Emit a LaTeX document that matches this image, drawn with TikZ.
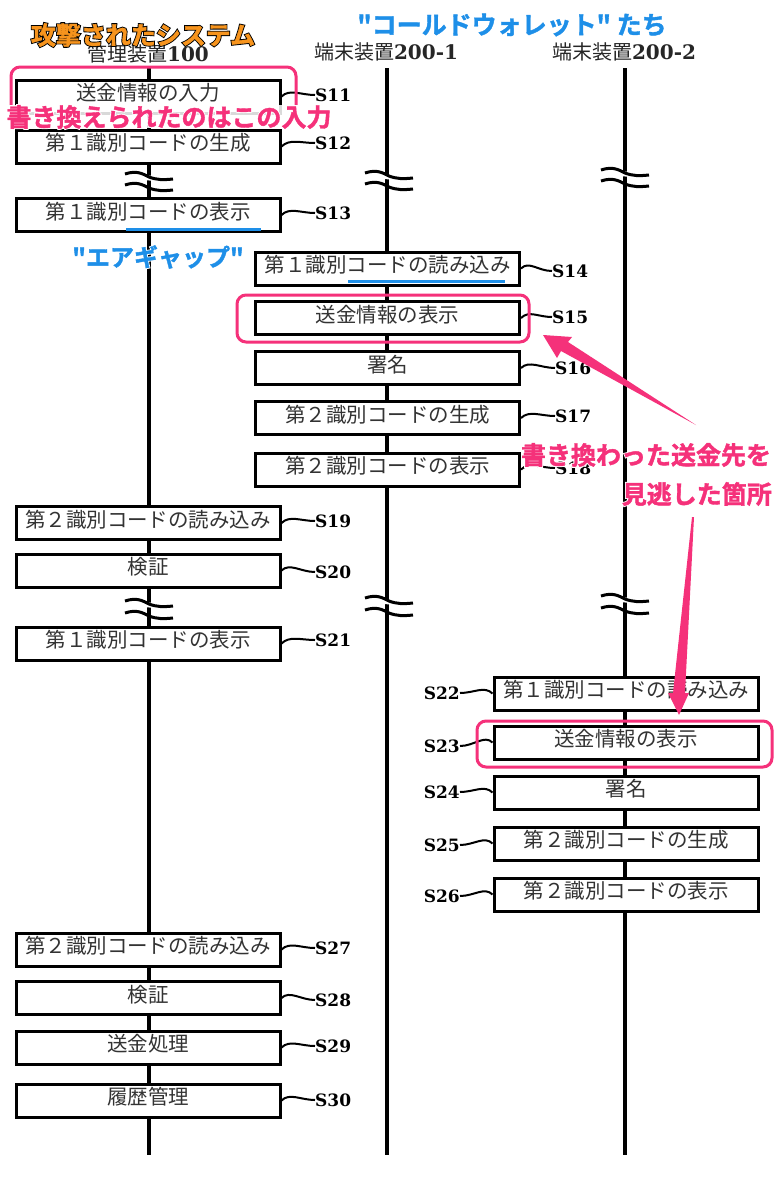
\documentclass[tikz,border=0pt]{standalone}
\usepackage{fontspec}
\setmainfont{Noto Sans CJK JP}
\newfontfamily\boldjp{Noto Sans CJK JP Bold}[FakeBold=1.5]
\newfontfamily\halojp{Noto Sans CJK JP Bold}[FakeBold=9]
\newfontfamily\stepfont{DejaVu Serif Bold}
\definecolor{pinkmark}{HTML}{F5317A}
\definecolor{bluemark}{HTML}{1E8FE8}
\definecolor{orangemark}{HTML}{F7941D}
\newcommand{\halotext}[4]{\fontsize{#1}{#1}\selectfont\leavevmode\rlap{\halojp\color{#2}#4}{\boldjp\color{#3}#4}}
\tikzset{
  box/.style={draw=black,line width=3pt,fill=white,minimum width=264pt,minimum height=33pt,inner sep=0pt,text height=14pt,text depth=5.5pt,font=\fontsize{20.5}{20.5}\selectfont,text=black!80},
  life/.style={line width=3.4pt,black},
  steplab/.style={inner sep=0pt,font=\stepfont\fontsize{17}{17}\selectfont},
  wave/.style={line width=2pt,black},
  headlab/.style={inner sep=0pt,font=\fontsize{20}{20}\selectfont,text=black!85},
  pinkframe/.style={draw=pinkmark,line width=3pt,rounded corners=9pt},
  under/.style={draw=bluemark,line width=3pt},
  callout/.style={inner sep=0pt},
  arrowfill/.style={fill=pinkmark,draw=none},
  pics/brk/.style args={#1/#2}{code={
    \fill[white] (-23,#1) -- (24,#1+5) -- (24,#1+10) -- (-23,#1+5) -- cycle;
    \draw[line width=3pt,black] (-24,#1+1) .. controls (-12,#1-3) and (-6,#1+1) .. (0,#1+4) .. controls (8,#1+7) and (14,#1+7) .. (24,#1+6);
    \draw[line width=3pt,black] (-24,#1+#2+1) .. controls (-12,#1+#2-3) and (-6,#1+#2+1) .. (0,#1+#2+4) .. controls (8,#1+#2+7) and (14,#1+#2+7) .. (24,#1+#2+6);
  }}
}
\begin{document}
\begin{tikzpicture}[x=1pt,y=-1pt]
\useasboundingbox (0,0) rectangle (783,1200);
\fill[white] (0,0) rectangle (783,1200);

% lifelines
\coordinate (lt1) at (149,68); \coordinate (lb1) at (149,1155);
\coordinate (lt2) at (387,68); \coordinate (lb2) at (387,1155);
\coordinate (lt3) at (625,68); \coordinate (lb3) at (625,1155);
\draw[life] (lt1) -- (lb1);
\draw[life] (lt2) -- (lb2);
\draw[life] (lt3) -- (lb3);

% breaks
\pic at (149,173) {brk={0/11}};
\pic at (389,172) {brk={0/11}};
\pic at (625,169) {brk={0/11}};
\pic at (149,600) {brk={0/12}};
\pic at (389,597) {brk={0/12}};
\pic at (625,595) {brk={0/12}};

% headers
\node[headlab] (h1) at (148,54) {管理装置{\stepfont 100}};
\node[headlab] (h2) at (386,52) {端末装置{\stepfont 200-1}};
\node[headlab] (h3) at (624,52) {端末装置{\stepfont 200-2}};

% boxes
\node[box] (b11) at (148,96.5) {送金情報の入力};
\node[box] (b12) at (148,146.5) {第１識別コードの生成};
\node[box] (b13) at (148,215) {第１識別コードの表示};
\node[box] (b14) at (387.5,268.5) {第１識別コードの読み込み};
\node[box] (b15) at (387.5,318) {送金情報の表示};
\node[box] (b16) at (387.5,368) {署名};
\node[box] (b17) at (387.5,418) {第２識別コードの生成};
\node[box] (b18) at (387.5,469.5) {第２識別コードの表示};
\node[box] (b19) at (148,523) {第２識別コードの読み込み};
\node[box] (b20) at (148,570.5) {検証};
\node[box] (b21) at (148,643.5) {第１識別コードの表示};
\node[box] (b22) at (626,693.5) {第１識別コードの読み込み};
\node[box] (b23) at (626,742.5) {送金情報の表示};
\node[box] (b24) at (626,792.5) {署名};
\node[box] (b25) at (626,843.5) {第２識別コードの生成};
\node[box] (b26) at (626,894.5) {第２識別コードの表示};
\node[box] (b27) at (148,949.5) {第２識別コードの読み込み};
\node[box] (b28) at (148,998) {検証};
\node[box] (b29) at (148,1047.5) {送金処理};
\node[box] (b30) at (148,1100.5) {履歴管理};

% step labels
\node[steplab,anchor=west] (s11) at (315,95) {S11};
\node[steplab,anchor=west] (s12) at (315,143) {S12};
\node[steplab,anchor=west] (s13) at (315,213) {S13};
\node[steplab,anchor=west] (s14) at (552,271) {S14};
\node[steplab,anchor=west] (s15) at (552,317) {S15};
\node[steplab,anchor=west] (s16) at (555,368) {S16};
\node[steplab,anchor=west] (s17) at (555,416) {S17};
\node[steplab,anchor=west] (s18) at (555,468) {S18};
\node[steplab,anchor=west] (s19) at (315,521) {S19};
\node[steplab,anchor=west] (s20) at (315,572) {S20};
\node[steplab,anchor=west] (s21) at (315,640) {S21};
\node[steplab,anchor=east] (s22) at (460,693) {S22};
\node[steplab,anchor=east] (s23) at (460,746) {S23};
\node[steplab,anchor=east] (s24) at (460,792) {S24};
\node[steplab,anchor=east] (s25) at (460,845) {S25};
\node[steplab,anchor=east] (s26) at (460,896) {S26};
\node[steplab,anchor=west] (s27) at (315,948) {S27};
\node[steplab,anchor=west] (s28) at (315,1000) {S28};
\node[steplab,anchor=west] (s29) at (315,1046) {S29};
\node[steplab,anchor=west] (s30) at (315,1100) {S30};

% step connectors
\foreach \b/\s in {b11/s11,b12/s12,b13/s13,b14/s14,b15/s15,b16/s16,b17/s17,b18/s18,b19/s19,b20/s20,b21/s21,b27/s27,b28/s28,b29/s29,b30/s30}
  \draw[wave] (\b.east) .. controls +(8,-8) and +(-14,0) .. (\s.west);
\foreach \b/\s in {b22/s22,b23/s23,b24/s24,b25/s25,b26/s26}
  \draw[wave] (\b.west) .. controls +(-8,-8) and +(14,0) .. (\s.east);

% underlines
\coordinate (u13a) at (126,229); \coordinate (u13b) at (261,229);
\coordinate (u14a) at (348,281); \coordinate (u14b) at (505,281);
\draw[under] (u13a) -- (u13b);
\draw[under] (u14a) -- (u14b);

% pink frames
\draw[pinkframe] (11,105) -- (11,67) -- (296,67) -- (296,105);
\draw[pinkframe] (237,295) rectangle (529,342);
\draw[pinkframe] (477,721) rectangle (772,767);

% arrows
\fill[arrowfill] (696,425) -- (568,342) -- (572,337) -- (543,335) -- (557,358) -- (561,351) -- cycle;
\fill[arrowfill] (692,517) -- (694,517) -- (685,693) -- (689,693) -- (679,715) -- (668,693) -- (673,693) -- cycle;

% titles
\fill[white,opacity=.85] (5,105) rectangle (333,128);
\node[callout] (t1) at (143,35) {\halotext{25}{black}{orangemark}{攻撃されたシステム}};
\node[callout] (t2) at (512,25) {\halotext{25}{white}{bluemark}{"コールドウォレット" たち}};
\node[callout] (t3) at (158,257) {\halotext{24}{white}{bluemark}{"エアギャップ"}};
\node[callout] (t4) at (169,117) {\halotext{25}{white}{pinkmark}{書き換えられたのはこの入力}};
\node[callout] (t5) at (646,455) {\halotext{25}{white}{pinkmark}{書き換わった送金先を}};
\node[callout,anchor=east] (t6) at (772,494) {\halotext{25}{white}{pinkmark}{見逃した箇所}};
\end{tikzpicture}
\end{document}
